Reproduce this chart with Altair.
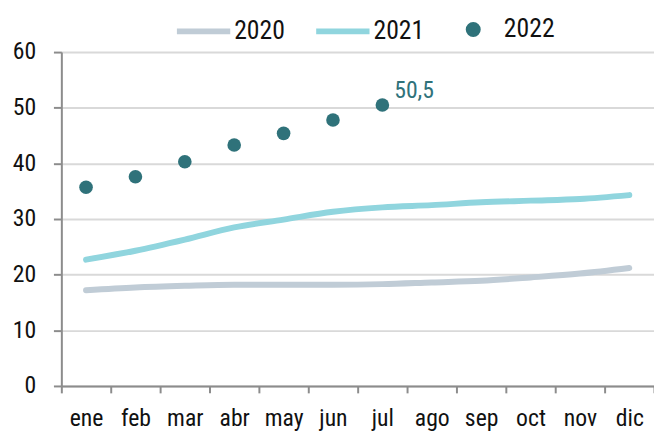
import altair as alt
import pandas as pd

months = ["ene", "feb", "mar", "abr", "may", "jun", "jul", "ago", "sep", "oct", "nov", "dic"]
v2020 = [17.2, 17.7, 18.0, 18.2, 18.2, 18.2, 18.3, 18.6, 18.9, 19.5, 20.2, 21.2]
v2021 = [22.7, 24.3, 26.3, 28.5, 29.9, 31.3, 32.1, 32.5, 33.0, 33.3, 33.6, 34.3]
v2022 = [35.7, 37.6, 40.3, 43.3, 45.4, 47.8, 50.5]
series = ["2020", "2021", "2022"]
colors = ["#C0CCD6", "#90D5DE", "#2F727A"]
# legend symbols: a line for 2020/2021, a small dot (centred in the same slot) for 2022
legend_shapes = ["stroke", "stroke",
                 "M0.17,0 A0.17,0.17 0 1,1 -0.17,0 A0.17,0.17 0 1,1 0.17,0 Z"]
label_text = ["50,5"]

rows = []
for m, v in zip(months, v2020):
    rows.append({"mes": m, "serie": "2020", "valor": v})
for m, v in zip(months, v2021):
    rows.append({"mes": m, "serie": "2021", "valor": v})
for m, v in zip(months, v2022):
    rows.append({"mes": m, "serie": "2022", "valor": v})
df = pd.DataFrame(rows)
lab = pd.DataFrame({"mes": [months[len(v2022) - 1]], "valor": [v2022[-1]], "txt": label_text})

FONT = "Liberation Sans Narrow, Roboto Condensed, Arial Narrow, DejaVu Sans Condensed, Roboto, sans-serif"

x = alt.X("mes:N", sort=months, title=None,
          scale=alt.Scale(paddingInner=0, paddingOuter=0),
          axis=alt.Axis(labelAngle=0, tickBand="extent", domainColor="#8C8C8C", domainWidth=2,
                        tickColor="#8C8C8C", tickWidth=2, tickSize=7, labelPadding=14,
                        labelFontSize=24, labelColor="#111111", labelFont=FONT, grid=False))
y = alt.Y("valor:Q", title=None,
          scale=alt.Scale(domain=[0, 60], nice=False),
          axis=alt.Axis(values=[0, 10, 20, 30, 40, 50, 60], domainColor="#8C8C8C", domainWidth=2,
                        tickColor="#8C8C8C", tickWidth=2, tickSize=8, labelPadding=18,
                        labelFontSize=24, labelColor="#111111", labelFont=FONT,
                        gridColor="#D9D9D9", gridWidth=2))

legend = alt.Legend(
    title=None, orient="none", direction="horizontal", legendX=114, legendY=-53,
    labelFontSize=26, labelFont=FONT, labelColor="#111111", symbolSize=2916,
    symbolStrokeWidth=6, labelOffset=1, columnPadding=19, symbolOpacity=1)

color = alt.Color("serie:N", scale=alt.Scale(domain=series, range=colors), legend=legend)
shape = alt.Shape("serie:N", scale=alt.Scale(domain=series, range=legend_shapes), legend=legend)

lines = alt.Chart(df).transform_filter(alt.datum.serie != "2022").mark_line(
    strokeWidth=6, strokeCap="round", interpolate="monotone").encode(x=x, y=y, color=color)
points = alt.Chart(df).transform_filter(alt.datum.serie == "2022").mark_circle(
    size=190, opacity=1).encode(x=x, y=y, color=color)
legend_helper = alt.Chart(df).transform_filter(alt.datum.serie == "2022").mark_point(
    filled=True, opacity=0).encode(x=x, y=y, color=color, shape=shape)
text = alt.Chart(lab).mark_text(align="left", baseline="alphabetic", dx=12, dy=-7,
                                fontSize=24, font=FONT, color="#2F727A").encode(
    x=alt.X("mes:N", sort=months), y="valor:Q", text="txt:N")

chart = alt.layer(lines, points, legend_helper, text).properties(
    width=600, height=338,
    autosize=alt.AutoSizeParams(type="none"),
    padding={"left": 54, "top": 42, "right": 0, "bottom": 45},
).configure_view(stroke=None).configure(background="white")

chart.save("out.html", embed_options={"renderer": "svg", "actions": False})
